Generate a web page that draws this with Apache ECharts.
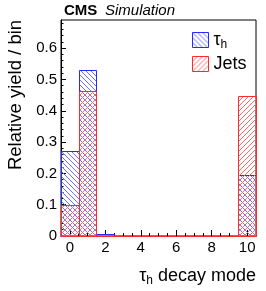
<!DOCTYPE html>
<html>
<head>
<meta charset="utf-8">
<script src="https://cdn.jsdelivr.net/npm/echarts@6/dist/echarts.min.js"></script>
<style>html,body{margin:0;padding:0;background:#fff}#c{width:266px;height:291px}</style>
</head>
<body>
<div id="c"></div>
<script>
var decayModes = [0, 1, 2, 3, 4, 5, 6, 7, 8, 9, 10];
var tauValues  = [0.272, 0.531, 0.005, 0, 0, 0, 0, 0, 0, 0, 0.196];
var jetValues  = [0.098, 0.464, 0, 0, 0, 0, 0, 0, 0, 0, 0.447];
var xTickLabels = [0, 2, 4, 6, 8, 10];
var yTickLabels = [0, 0.1, 0.2, 0.3, 0.4, 0.5, 0.6];

var FONT = "'Liberation Sans', Arial, Helvetica, sans-serif";

function hatch(color, dir) {
  var n = 5;
  var c = document.createElement('canvas');
  c.width = n; c.height = n;
  var g = c.getContext('2d');
  g.fillStyle = color;
  for (var i = 0; i < n; i++) {
    var x = dir > 0 ? (n - 1 - i) : i;
    g.fillRect(x, i, 1, 1);
  }
  return { image: c, repeat: 'repeat' };
}
var tauFill = hatch('#6e6eff', -1);
var jetFill = hatch('#ff6a6a', 1);
var tauStroke = '#2a2aff';
var jetStroke = '#ff2a2a';

function mk(vals) { return decayModes.map(function (d, i) { return [d, vals[i]]; }); }

function render(fill, stroke) {
  return function (params, api) {
    var x = api.value(0), y = api.value(1);
    var p0 = api.coord([x - 0.5, 0]);
    var p1 = api.coord([x + 0.5, y]);
    var x0 = Math.round(p0[0]) + 0.5, x1 = Math.round(p1[0]) + 0.5;
    var yb = Math.round(p0[1]) + 0.5, yt = Math.round(p1[1]) + 0.5;
    return {
      type: 'rect',
      shape: { x: x0, y: yt, width: x1 - x0, height: yb - yt },
      style: { fill: fill, stroke: stroke, lineWidth: 1 }
    };
  };
}

var minorX = [];
for (var v = -0.5; v <= 10.5; v += 0.5) minorX.push(v);
var minorY = [];
for (var k = 0; k <= 34; k++) minorY.push(Math.round(k * 2) / 100);

var chart = echarts.init(document.getElementById('c'));
chart.setOption({
  animation: false,
  grid: { left: 61, right: 10, top: 20, bottom: 55, show: true, borderColor: '#000', borderWidth: 1, backgroundColor: 'transparent' },
  xAxis: [{
    type: 'value', min: -0.5, max: 10.5, position: 'bottom',
    axisLine: { show: true, onZero: false, lineStyle: { color: '#000', width: 1 } },
    axisTick: { show: true, inside: true, length: 6, customValues: xTickLabels, lineStyle: { color: '#000' } },
    axisLabel: { customValues: xTickLabels, color: '#000', fontSize: 15, fontFamily: FONT, margin: 4 },
    splitLine: { show: false }
  }, {
    type: 'value', min: -0.5, max: 10.5, position: 'bottom',
    axisLine: { show: false, onZero: false },
    axisTick: { show: true, inside: true, length: 3, customValues: minorX, lineStyle: { color: '#000' } },
    axisLabel: { show: false },
    splitLine: { show: false }
  }],
  yAxis: [{
    type: 'value', min: 0, max: 0.69, position: 'left',
    axisLine: { show: true, onZero: false, lineStyle: { color: '#000', width: 1 } },
    axisTick: { show: true, inside: true, length: 5, customValues: yTickLabels, lineStyle: { color: '#000' } },
    axisLabel: { customValues: yTickLabels, color: '#000', fontSize: 15, fontFamily: FONT, margin: 4,
      formatter: function (v) { return v === 0 ? '0' : v.toFixed(1); } },
    splitLine: { show: false }
  }, {
    type: 'value', min: 0, max: 0.69, position: 'left',
    axisLine: { show: false, onZero: false },
    axisTick: { show: true, inside: true, length: 2.5, customValues: minorY, lineStyle: { color: '#000' } },
    axisLabel: { show: false },
    splitLine: { show: false }
  }],
  legend: {
    orient: 'vertical', left: 192, top: 31, padding: 0, itemWidth: 16, itemHeight: 15, itemGap: 4,
    icon: 'rect',
    data: [
      { name: 'tau', itemStyle: { color: tauFill, borderColor: tauStroke, borderWidth: 1 } },
      { name: 'jets', itemStyle: { color: jetFill, borderColor: jetStroke, borderWidth: 1 } }
    ],
    formatter: function (n) { return n === 'tau' ? '{a|τ}{b|h}' : '{a|Jets}'; },
    textStyle: {
      color: '#000', fontFamily: FONT,
      rich: {
        a: { fontSize: 18, lineHeight: 22, fontFamily: FONT, color: '#000' },
        b: { fontSize: 12, lineHeight: 13, verticalAlign: 'bottom', fontFamily: FONT, color: '#000' }
      }
    }
  },
  graphic: [
    { type: 'text', x: 64, y: 11, style: { text: 'CMS', font: 'bold 15px ' + FONT, fill: '#000', align: 'left', verticalAlign: 'middle' } },
    { type: 'text', x: 105, y: 11, style: { text: 'Simulation', font: 'italic 15px ' + FONT, fill: '#000', align: 'left', verticalAlign: 'middle' } },
    { type: 'text', x: 16, y: 95, rotation: Math.PI / 2, style: { text: 'Relative yield / bin', font: '18.5px ' + FONT, fill: '#000', align: 'center', verticalAlign: 'middle' } },
    { type: 'text', x: 256, y: 276, style: {
        text: '{t|τ}{s|h}{t| decay mode}', align: 'right', verticalAlign: 'middle',
        rich: {
          t: { fontSize: 18, lineHeight: 22, fontFamily: FONT, fill: '#000' },
          s: { fontSize: 12, lineHeight: 13, verticalAlign: 'bottom', fontFamily: FONT, fill: '#000' }
        } } }
  ],
  series: [
    { name: 'tau', type: 'custom', xAxisIndex: 0, yAxisIndex: 0, data: mk(tauValues), encode: { x: 0, y: 1 },
      itemStyle: { color: tauFill, borderColor: tauStroke }, renderItem: render(tauFill, tauStroke), z: 2 },
    { name: 'jets', type: 'custom', xAxisIndex: 0, yAxisIndex: 0, data: mk(jetValues), encode: { x: 0, y: 1 },
      itemStyle: { color: jetFill, borderColor: jetStroke }, renderItem: render(jetFill, jetStroke), z: 3 }
  ]
});
</script>
</body>
</html>
